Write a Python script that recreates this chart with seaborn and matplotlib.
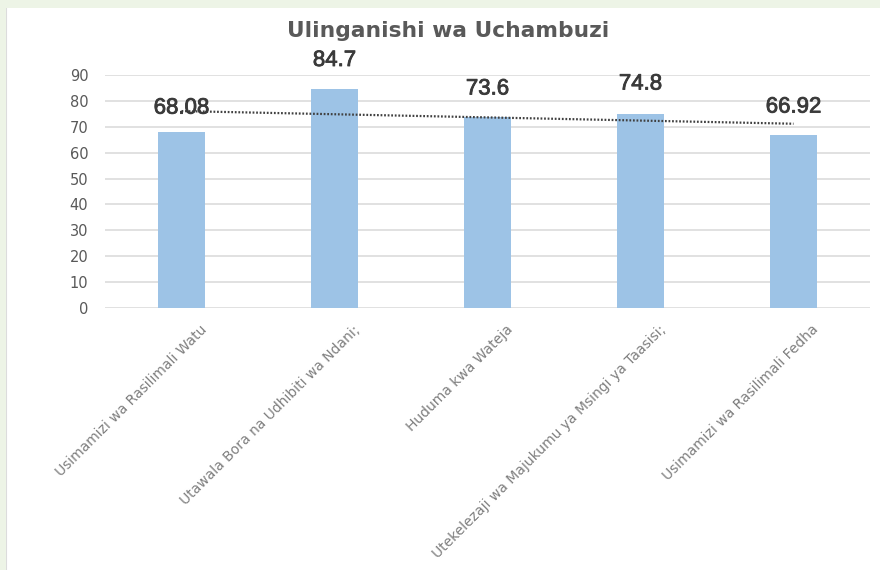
import numpy as np
import pandas as pd
import matplotlib
matplotlib.use("Agg")
import matplotlib.pyplot as plt
import matplotlib.transforms as mtrans
import matplotlib.patheffects as pe
import seaborn as sns

# chart data
categories = [
    "Usimamizi wa Rasilimali Watu",
    "Utawala Bora na Udhibiti wa Ndani;",
    "Huduma kwa Wateja",
    "Utekelezaji wa Majukumu ya Msingi ya Taasisi;",
    "Usimamizi wa Rasilimali Fedha",
]
scores = [68.08, 84.7, 73.6, 74.8, 66.92]
value_labels = ["68.08", "84.7", "73.6", "74.8", "66.92"]
y_ticks = [0, 10, 20, 30, 40, 50, 60, 70, 80, 90]

# where the data labels sit (they were dragged around in the original)
label_y = [77.2, 95.6, 84.6, 86.5, 77.6]

df = pd.DataFrame({"category": categories, "score": scores})

sns.set_theme(style="white")
plt.rcParams["font.family"] = ["DejaVu Sans"]

fig = plt.figure(figsize=(8.8, 5.7), dpi=100, facecolor="#edf4e6")
# white panel inside the green frame
panel = fig.add_axes([6 / 880, 0, 1 - 6 / 880, 1 - 8 / 570])
panel.set_facecolor("white")
panel.set_xticks([])
panel.set_yticks([])
for s in panel.spines.values():
    s.set_visible(False)
panel.axvline(0, color="#dcdcdc", lw=1.5)

ax = fig.add_axes([105 / 880, 1 - 308 / 570, 765 / 880, 233 / 570])
ax.set_facecolor("none")
sns.barplot(data=df, x="category", y="score", color="#9dc3e6", saturation=1,
            width=0.31, linewidth=0, ax=ax, zorder=2)

ax.set_ylim(0, 90)
ax.set_xlim(-0.5, len(categories) - 0.5)
ax.set_yticks(y_ticks)
ax.yaxis.grid(True, color="#d9d9d9", lw=1.1, zorder=0)
ax.set_axisbelow(True)
for s in ax.spines.values():
    s.set_visible(False)
ax.tick_params(axis="y", length=0, pad=12, labelsize=10.5, labelcolor="#595959")
ax.tick_params(axis="x", length=0, pad=14)
ax.set_xticks(range(len(categories)))
ax.set_xticklabels(categories, rotation=45, ha="right", va="center",
                   rotation_mode="anchor", fontsize=10, color="#7f7f7f")
shift = mtrans.ScaledTranslation(23 / 100, 0, fig.dpi_scale_trans)
for lab in ax.get_xticklabels():
    lab.set_transform(lab.get_transform() + shift)
ax.set_xlabel("")
ax.set_ylabel("")

# linear trendline like Excel
xs = np.arange(len(scores))
slope, icpt = np.polyfit(xs, scores, 1)
ax.plot(xs, slope * xs + icpt, color="#404040", lw=1.6, ls=(0, (0.8, 0.8)),
        zorder=3, clip_on=False)

for i, txt in enumerate(value_labels):
    ax.text(i, label_y[i], txt, ha="center", va="center", fontsize=16,
            color="#3a3a3a", family="Liberation Sans", zorder=4, clip_on=False,
            path_effects=[pe.withStroke(linewidth=0.6, foreground="#3a3a3a")])

fig.text(448 / 880, 1 - 31 / 570, "Ulinganishi wa Uchambuzi", ha="center",
         va="center", fontsize=15.7, fontweight="bold", color="#595959")

fig.savefig("out.png", dpi=100, facecolor=fig.get_facecolor())
